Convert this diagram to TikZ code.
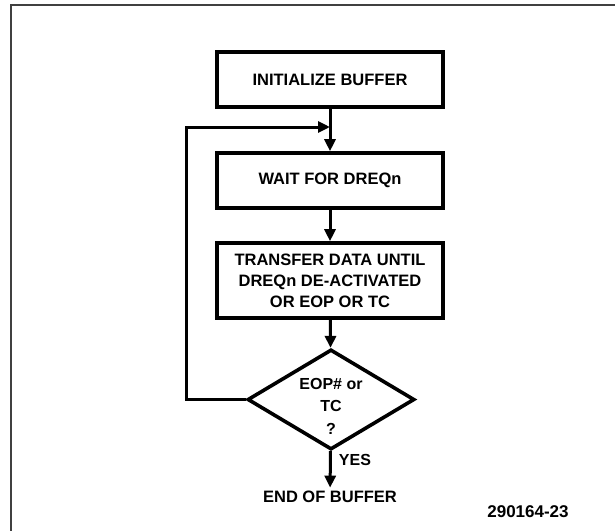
\documentclass[tikz,border=0pt]{standalone}
\usepackage{fontspec}
\setmainfont{Liberation Sans}
\usetikzlibrary{arrows.meta, positioning, shapes.geometric, calc}
\tikzset{
  procbox/.style={draw, line width=3.6pt, minimum width=226pt, minimum height=55pt,
    align=center, font=\bfseries\fontsize{16.5}{21}\selectfont},
  decide/.style={draw, diamond, line width=3.6pt, minimum width=167pt, minimum height=95pt,
    inner sep=-8pt, align=center, font=\bfseries\fontsize{16}{22.5}\selectfont},
  flow/.style={line width=3pt, -{Triangle[length=12pt,width=11pt]}},
  plain/.style={font=\bfseries\fontsize{16.5}{21}\selectfont},
}

\begin{document}
\begin{tikzpicture}[x=1pt,y=-1pt]
	\useasboundingbox (0,0) rectangle (615,531);
	% frame
	\draw[black!75, line width=1.8pt] (615,5) -- (11,5) -- (11,531);
	\node[procbox] (init) at (330,79.5) {INITIALIZE BUFFER};
	\node[procbox] (wait) at (330,180.5) {WAIT FOR DREQn};
	\node[procbox, minimum height=75pt] (xfer) at (330,280.5) {TRANSFER DATA UNTIL\\DREQn DE-ACTIVATED\\OR EOP OR TC};
	\node[decide] (test) at (331,399.5) {\rule{0pt}{24pt}EOP\# or\\TC\\?};
	\node[plain] (done) at (330,497) {END OF BUFFER};
	\node[plain, font=\bfseries\fontsize{16}{20}\selectfont] (yes) at (355,460) {YES};
	\node[plain, font=\bfseries\fontsize{17}{20}\selectfont] (figno) at (528,512) {290164-23};
	\coordinate (join) at (330,127);
	\draw[flow] (init) -- (wait);
	\draw[flow] (wait) -- (xfer);
	\draw[flow] (xfer) -- (test);
	\draw[flow] (test) -- (done);
	\draw[flow] (test.west) -- ++(-59,0) |- (join);
\end{tikzpicture}
\end{document}
